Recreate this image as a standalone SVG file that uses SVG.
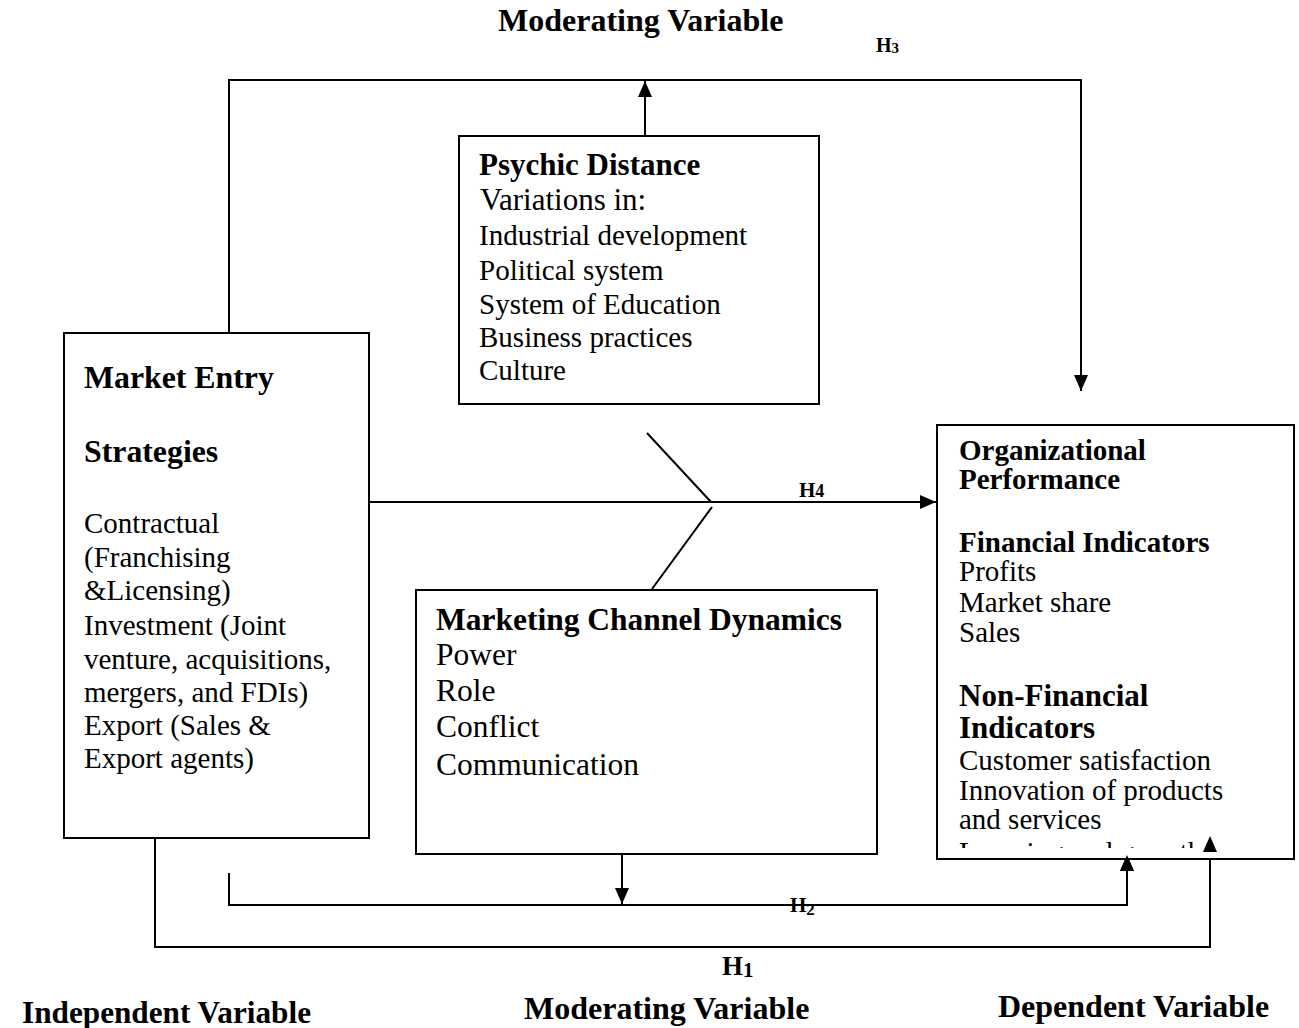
<svg xmlns="http://www.w3.org/2000/svg" width="1299" height="1028" viewBox="0 0 1299 1028">
  <style>
    text { font-family: "Liberation Serif", "Times New Roman", serif; fill: #000; }
    .b { font-weight: bold; }
    .box { fill: #fff; stroke: #000; stroke-width: 2; }
    .ln { fill: none; stroke: #000; stroke-width: 2; }
    .t29 { font-size: 29px; }
    .t31 { font-size: 31px; }
    .cap { font-size: 32px; font-weight: bold; }
  </style>
  <defs>
    <marker id="arrow" markerUnits="userSpaceOnUse" markerWidth="16" markerHeight="14" refX="16" refY="7" orient="auto">
      <path d="M0,0 L16,7 L0,14 z" fill="#000"/>
    </marker>
    <clipPath id="lastLine">
      <rect x="940" y="841" width="300" height="7"/>
    </clipPath>
  </defs>
  <rect width="1299" height="1028" fill="#fff"/>

  <!-- variable captions -->
  <g id="captions">
    <text class="cap" x="498" y="31" font-size="32.5">Moderating Variable</text>
    <text class="cap" x="22" y="1023" font-size="30" textLength="289" lengthAdjust="spacingAndGlyphs">Independent Variable</text>
    <text class="cap" x="524" y="1019" font-size="32">Moderating Variable</text>
    <text class="cap" x="998" y="1017" font-size="31.8">Dependent Variable</text>
  </g>

  <!-- connectors -->
  <g id="connectors">
    <!-- H3: market entry over the top to performance -->
    <polyline class="ln" points="229,333 229,80 1081,80 1081,391" marker-end="url(#arrow)"/>
    <!-- psychic distance up to H3 path -->
    <line class="ln" x1="645" y1="136" x2="645" y2="81" marker-end="url(#arrow)"/>
    <!-- H4 direct path -->
    <line class="ln" x1="369" y1="502" x2="936" y2="502" marker-end="url(#arrow)"/>
    <line class="ln" x1="647" y1="433" x2="711" y2="502"/>
    <line class="ln" x1="712" y1="507" x2="652" y2="589"/>
    <!-- H2 path -->
    <polyline class="ln" points="229,873 229,905 1127,905 1127,855" marker-end="url(#arrow)"/>
    <line class="ln" x1="622" y1="854" x2="622" y2="904" marker-end="url(#arrow)"/>
    <!-- H1 path -->
    <polyline class="ln" points="155,838 155,947 1210,947 1210,836" marker-end="url(#arrow)"/>
  </g>

  <!-- hypothesis labels -->
  <g id="hypotheses">
    <text class="b" x="876" y="52" font-size="20">H<tspan font-size="15" dy="1">3</tspan></text>
    <text class="b" x="799" y="497" font-size="21">H<tspan font-size="18">4</tspan></text>
    <text class="b" x="790" y="912" font-size="21">H<tspan font-size="17" dy="3">2</tspan></text>
    <text class="b" x="722" y="975" font-size="27">H<tspan font-size="21" dy="2">1</tspan></text>
  </g>

  <g id="market-entry">
    <rect class="box" x="64" y="333" width="305" height="505"/>
    <text class="b" x="84" y="388" font-size="31.8">Market Entry</text>
    <text class="b" x="84" y="462" font-size="31.8">Strategies</text>
    <text class="t29" x="84" y="533">Contractual</text>
    <text class="t29" x="84" y="567">(Franchising</text>
    <text class="t29" x="84" y="600">&amp;Licensing)</text>
    <text class="t29" x="84" y="635">Investment (Joint</text>
    <text class="t29" x="84" y="669">venture, acquisitions,</text>
    <text class="t29" x="84" y="702">mergers, and FDIs)</text>
    <text class="t29" x="84" y="735">Export (Sales &amp;</text>
    <text class="t29" x="84" y="768">Export agents)</text>
  </g>

  <g id="psychic-distance">
    <rect class="box" x="459" y="136" width="360" height="268"/>
    <text class="b t31" x="479" y="175">Psychic Distance</text>
    <text class="t31" x="480" y="210">Variations in:</text>
    <text class="t29" x="479" y="245">Industrial development</text>
    <text class="t29" x="479" y="280">Political system</text>
    <text class="t29" x="479" y="314">System of Education</text>
    <text class="t29" x="479" y="347">Business practices</text>
    <text class="t29" x="479" y="380">Culture</text>
  </g>

  <g id="channel-dynamics">
    <rect class="box" x="416" y="590" width="461" height="264"/>
    <text class="b" x="436" y="630" font-size="31.5">Marketing Channel Dynamics</text>
    <text x="436" y="665" font-size="31.5">Power</text>
    <text x="436" y="701" font-size="31.5">Role</text>
    <text x="436" y="737" font-size="31.5">Conflict</text>
    <text x="436" y="775" font-size="31.5">Communication</text>
  </g>

  <g id="performance">
    <rect class="box" x="937" y="425" width="357" height="434"/>
    <text class="b t29" x="959" y="460">Organizational</text>
    <text class="b t29" x="959" y="489">Performance</text>
    <text class="b t29" x="959" y="552">Financial Indicators</text>
    <text class="t29" x="959" y="581">Profits</text>
    <text class="t29" x="959" y="612">Market share</text>
    <text class="t29" x="959" y="642">Sales</text>
    <text class="b t31" x="959" y="706">Non-Financial</text>
    <text class="b t31" x="959" y="738">Indicators</text>
    <text class="t29" x="959" y="770">Customer satisfaction</text>
    <text class="t29" x="959" y="800">Innovation of products</text>
    <text class="t29" x="959" y="829">and services</text>
    <!-- last list line is cut off by the box edge; only ascender tops remain -->
    <text class="t29" x="959" y="862" clip-path="url(#lastLine)">Learning and growth</text>
  </g>

  <!-- arrowheads entering the performance box sit on top of its border -->
  <g id="arrow-tips">
    <path d="M1120,871 L1127,855 L1134,871 z" fill="#000"/>
    <path d="M1203,852 L1210,836 L1217,852 z" fill="#000"/>
  </g>
</svg>
